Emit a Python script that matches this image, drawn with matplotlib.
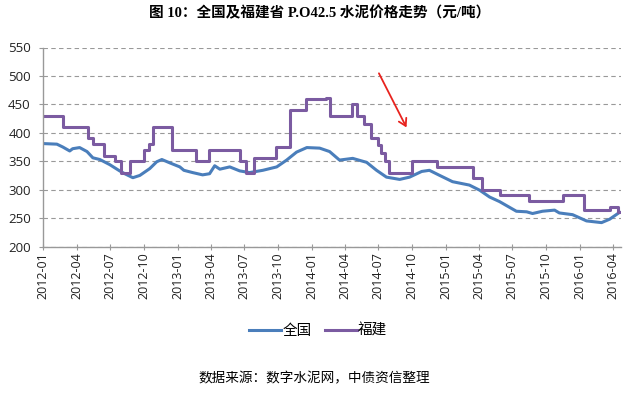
import matplotlib
matplotlib.use("Agg")
import matplotlib.pyplot as plt
import pandas as pd

# 全国 (national average)
nat_dates = ["2012-01-01", "2012-02-07", "2012-02-23", "2012-03-13", "2012-03-21", "2012-04-09",
             "2012-04-29", "2012-05-15", "2012-06-03", "2012-06-30", "2012-07-27", "2012-08-10",
             "2012-09-01", "2012-09-20", "2012-10-17", "2012-11-05", "2012-11-19", "2012-12-11",
             "2013-01-07", "2013-01-18", "2013-02-11", "2013-03-10", "2013-03-29", "2013-04-12",
             "2013-04-26", "2013-05-23", "2013-06-19", "2013-07-16", "2013-08-21", "2013-09-28",
             "2013-10-25", "2013-11-21", "2013-12-19", "2014-01-23", "2014-02-19", "2014-03-18",
             "2014-04-23", "2014-05-31", "2014-06-27", "2014-07-24", "2014-08-29", "2014-09-25",
             "2014-10-28", "2014-11-18", "2014-12-16", "2015-01-20", "2015-03-07", "2015-04-04",
             "2015-05-01", "2015-05-28", "2015-06-24", "2015-07-13", "2015-08-10", "2015-08-26",
             "2015-09-22", "2015-10-25", "2015-11-07", "2015-12-13", "2016-01-20", "2016-03-01",
             "2016-03-23", "2016-04-19"]
nat_values = [381, 380, 375, 368, 372, 374,
              367, 356, 353, 344, 333, 328,
              321, 325, 337, 349, 353, 347,
              340, 334, 330, 326, 328, 342,
              336, 340, 333, 330, 334, 340,
              352, 366, 374, 373, 367, 352,
              355, 348, 334, 322, 318, 322,
              332, 334, 325, 314, 308, 299,
              287, 279, 269, 262, 261, 258,
              262, 264, 259, 256, 245, 242,
              248, 260]

# 福建 (Fujian), price changes (date of change, new price)
fj_dates = ["2012-01-01", "2012-02-23", "2012-05-01", "2012-05-15", "2012-06-14", "2012-07-14",
            "2012-07-30", "2012-08-24", "2012-10-01", "2012-10-15", "2012-10-26", "2012-12-16",
            "2013-02-19", "2013-03-27", "2013-06-19", "2013-07-05", "2013-07-27", "2013-09-25",
            "2013-11-02", "2013-12-16", "2014-02-08", "2014-02-19", "2014-04-20", "2014-05-04",
            "2014-05-25", "2014-06-11", "2014-06-30", "2014-07-08", "2014-07-19", "2014-07-30",
            "2014-10-01", "2014-12-08", "2015-03-16", "2015-04-09", "2015-05-28", "2015-08-15",
            "2015-11-16", "2016-01-12", "2016-03-23", "2016-04-16", "2016-04-22"]
fj_values = [430, 410, 390, 380, 360, 350,
             330, 350, 370, 380, 410, 370,
             350, 370, 350, 330, 355, 375,
             440, 460, 462, 430, 450, 430,
             415, 390, 378, 365, 350, 330,
             350, 340, 320, 300, 290, 280,
             290, 265, 270, 260, 260]

series_names = ["全国", "福建"]
tick_dates = pd.date_range("2012-01-01", "2016-04-01", freq="3MS")
y_ticks = [200, 250, 300, 350, 400, 450, 500, 550]

title = "图 10：全国及福建省 P.O42.5 水泥价格走势（元/吨）"
source = "数据来源：数字水泥网，中债资信整理"

plt.rcParams['font.family'] = ['Open Sans', 'Noto Sans CJK SC']

fig = plt.figure(figsize=(6.32, 3.97), dpi=100)
ax = fig.add_axes([43.3 / 632, 1 - 246.5 / 397, (621 - 43.3) / 632, (246.5 - 47.5) / 397])

blue = "#4A7EBB"
purple = "#7B5BA1"
ax.plot(pd.to_datetime(nat_dates), nat_values, color=blue, lw=2.2, label=series_names[0],
        solid_joinstyle="round")
ax.step(pd.to_datetime(fj_dates), fj_values, where="post", color=purple, lw=2.2,
        label=series_names[1])

ax.set_ylim(200, 550)
ax.set_yticks(y_ticks)
ax.set_xlim(pd.Timestamp("2012-01-01"), pd.Timestamp("2016-04-23"))
ax.set_xticks(tick_dates)
ax.set_xticklabels([d.strftime("%Y-%m") for d in tick_dates], rotation=90)
ax.tick_params(axis="x", labelsize=9, length=4, direction="inout", color="#999999",
               labelcolor="#222222", pad=2)
ax.tick_params(axis="y", labelsize=9.5, length=3, direction="out", color="#999999",
               labelcolor="#222222", pad=6)

ax.grid(axis="y", linestyle=(0, (4, 3)), color="#999999", lw=0.8)
ax.set_axisbelow(True)
for s in ["top", "right"]:
    ax.spines[s].set_visible(False)
for s in ["left", "bottom"]:
    ax.spines[s].set_color("#999999")
    ax.spines[s].set_linewidth(1.0)

# red arrow
ax.annotate("", xy=(pd.Timestamp("2014-09-20"), 405), xytext=(pd.Timestamp("2014-06-30"), 509),
            arrowprops=dict(arrowstyle="->,head_length=0.5,head_width=0.3", color="#E8231E", lw=1.3))

fig.text(0.505, 1 - 13 / 397, title, ha="center", va="center", fontsize=10.5, fontweight="bold",
         family=['Liberation Serif', 'Noto Sans CJK SC'])

leg = fig.legend(loc="center", bbox_to_anchor=(318 / 632, 1 - 331 / 397), ncol=2, frameon=False,
                 handlelength=2.2, columnspacing=0.9, handletextpad=0.05,
                 prop={'family': ['Noto Sans CJK SC'], 'size': 10.5})

fig.text(314 / 632, 1 - 378 / 397, source, ha="center", va="center", fontsize=9.8,
         family=['Noto Sans CJK SC'])

fig.savefig("out.png", dpi=100)
